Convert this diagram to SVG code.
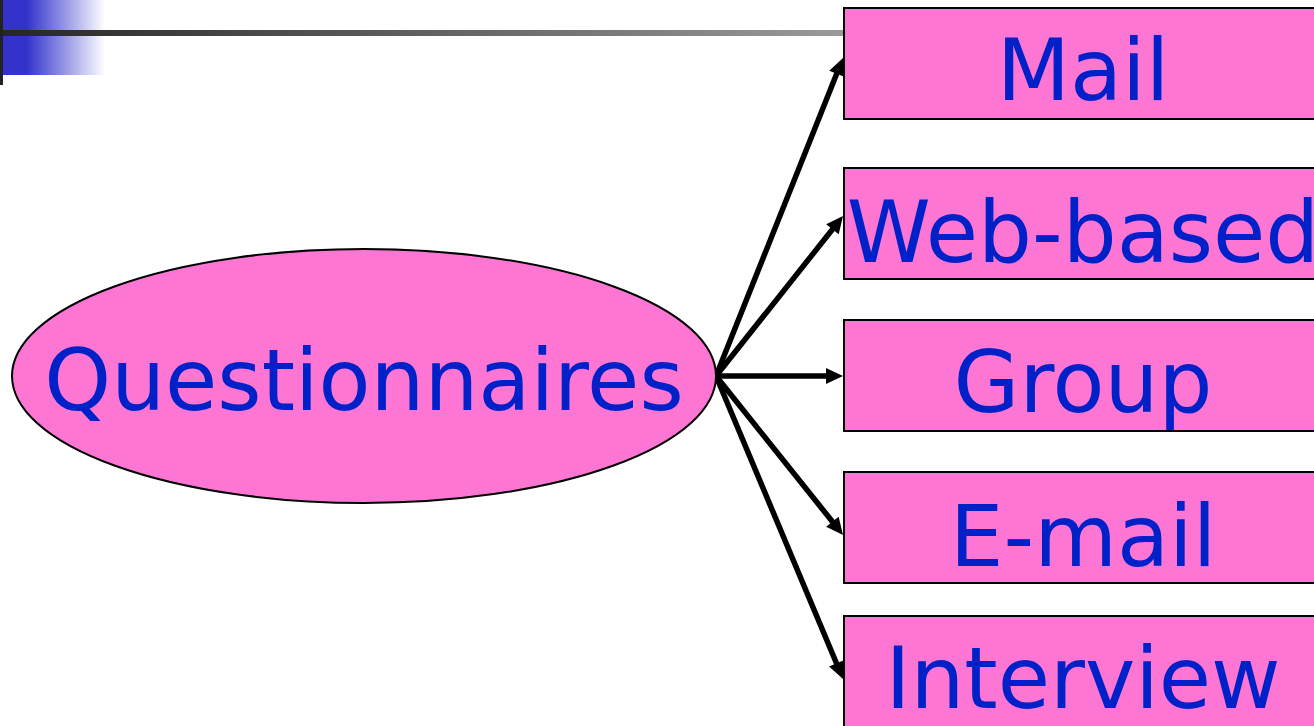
<svg xmlns="http://www.w3.org/2000/svg" width="1314" height="726" viewBox="0 0 1314 726">
<defs>
<linearGradient id="blueg" x1="0" y1="0" x2="1" y2="0">
<stop offset="0" stop-color="#3333cc"/>
<stop offset="0.24" stop-color="#3333cc"/>
<stop offset="1" stop-color="#ffffff"/>
</linearGradient>
<linearGradient id="lineg" x1="0" y1="0" x2="1" y2="0">
<stop offset="0" stop-color="#262626"/>
<stop offset="1" stop-color="#9a9a9a"/>
</linearGradient>
<style>
.box{fill:#fd76d4;stroke:#000;stroke-width:2}
.lbl{font-family:"DejaVu Sans",sans-serif;font-size:85px;fill:#0020c8;text-anchor:middle}
.con{stroke:#000;stroke-width:5.5;fill:none}
.head{fill:#000;stroke:none}
</style>
</defs>
<rect x="0" y="0" width="1314" height="726" fill="#fff"/>
<g id="decor">
<rect x="2" y="0" width="103" height="75" fill="url(#blueg)"/>
<rect x="0" y="30" width="844" height="6" fill="url(#lineg)"/>
<rect x="0" y="0" width="3" height="85" fill="#222"/>
</g>
<g id="connectors">
<line class="con" x1="716" y1="376" x2="837.5" y2="71.8"/>
<polygon class="head" points="843,58 844.14,76.75 829.28,70.83"/>
<line class="con" x1="716" y1="376" x2="833.5" y2="228"/>
<polygon class="head" points="843,216 838.7,234.28 826.16,224.34"/>
<line class="con" x1="716" y1="376" x2="828" y2="376"/>
<polygon class="head" points="843,376 826,384 826,368"/>
<line class="con" x1="716" y1="376" x2="833.5" y2="523"/>
<polygon class="head" points="843,535 826.14,526.71 838.64,516.73"/>
<line class="con" x1="716" y1="376" x2="837" y2="664.5"/>
<polygon class="head" points="843,679 829.05,666.41 843.81,660.23"/>
</g>
<g id="questionnaires">
<ellipse cx="364" cy="376" rx="352" ry="127" fill="#fd76d4" stroke="#000" stroke-width="2"/>
<text class="lbl" x="364" y="410">Questionnaires</text>
</g>
<g id="mail">
<rect class="box" x="844" y="8" width="480" height="111"/>
<text class="lbl" x="1083" y="100">Mail</text>
</g>
<g id="web">
<rect class="box" x="844" y="168" width="480" height="111"/>
<text class="lbl" x="1083" y="262">Web-based</text>
</g>
<g id="group">
<rect class="box" x="844" y="320" width="480" height="111"/>
<text class="lbl" x="1083" y="412">Group</text>
</g>
<g id="email">
<rect class="box" x="844" y="472" width="480" height="111"/>
<text class="lbl" x="1083" y="566">E-mail</text>
</g>
<g id="interview">
<rect class="box" x="844" y="616" width="480" height="120"/>
<text class="lbl" x="1083" y="708">Interview</text>
</g>
</svg>
